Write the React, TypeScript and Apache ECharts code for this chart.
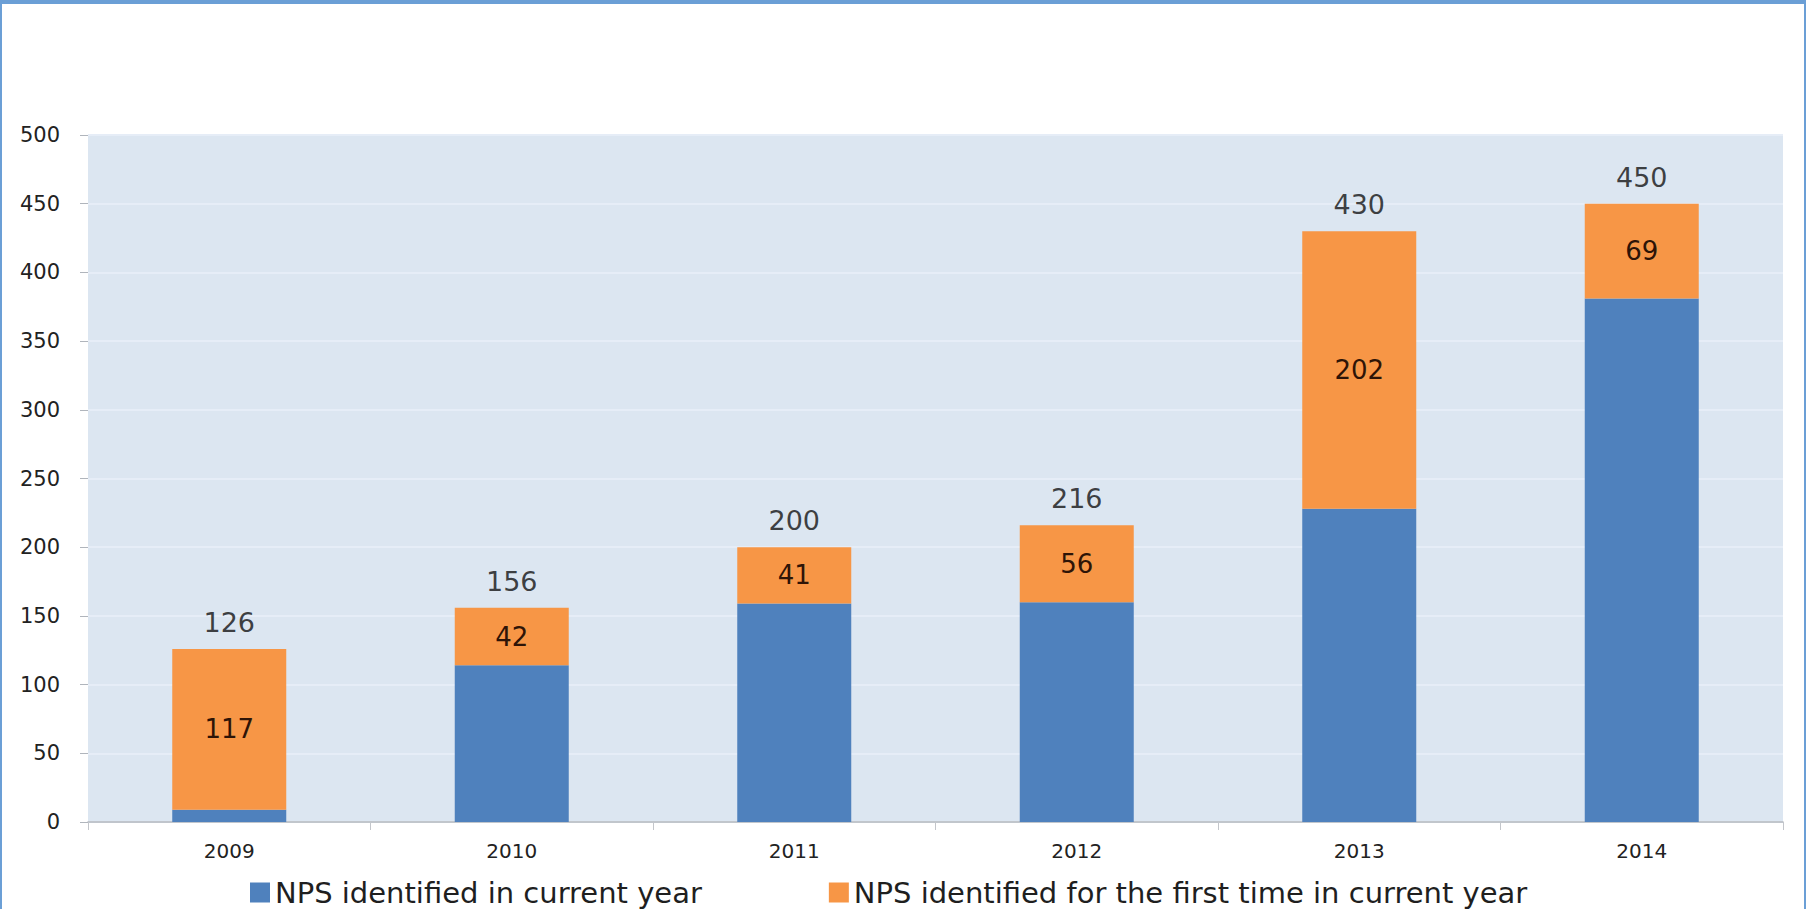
import React, { useEffect, useRef } from "react";
import * as echarts from "echarts";

const years = ["2009", "2010", "2011", "2012", "2013", "2014"];
const identifiedCurrent = [9, 114, 159, 160, 228, 381];
const identifiedFirstTime = [117, 42, 41, 56, 202, 69];
const yTicks = { min: 0, max: 500, interval: 50 };
const legendNames = [
  "NPS identified in current year",
  "NPS identified for the first time in current year",
];

const FONT = "DejaVu Sans";

export default function App() {
  const ref = useRef<HTMLDivElement>(null);
  useEffect(() => {
    if (!ref.current) return;
    const chart = echarts.init(ref.current, undefined, { renderer: "svg" });
    const totals = years.map((_, i) => identifiedCurrent[i] + identifiedFirstTime[i]);
    chart.setOption({
      animation: false,
      backgroundColor: "#ffffff",
      textStyle: { fontFamily: FONT },
      grid: {
        left: 88,
        right: 23,
        top: 135,
        bottom: 87,
        show: true,
        backgroundColor: "#dce6f1",
        borderWidth: 0,
      },
      legend: {
        data: legendNames,
        left: 245,
        top: 873,
        itemWidth: 20,
        itemHeight: 20,
        itemGap: 127,
        icon: "rect",
        textStyle: { fontFamily: FONT, fontSize: 29, color: "#1f1f1f" },
      },
      xAxis: {
        type: "category",
        data: years,
        axisLine: { show: true, lineStyle: { color: "#b4b8be", width: 1.5 } },
        axisTick: { show: true, length: 8, lineStyle: { color: "#c3c6cb" } },
        axisLabel: {
          fontFamily: FONT,
          fontSize: 20,
          color: "#222222",
          margin: 19,
        },
      },
      yAxis: {
        type: "value",
        min: yTicks.min,
        max: yTicks.max,
        interval: yTicks.interval,
        axisLine: { show: false },
        axisTick: { show: true, length: 8, lineStyle: { color: "#b0b5bc" } },
        axisLabel: {
          fontFamily: FONT,
          fontSize: 21,
          color: "#222222",
          margin: 28,
        },
        splitLine: { show: true, lineStyle: { color: "#e6edf7", width: 2 } },
      },
      series: [
        {
          name: legendNames[0],
          type: "bar",
          stack: "nps",
          data: identifiedCurrent,
          barWidth: 114,
          itemStyle: { color: "#4f81bd" },
        },
        {
          name: legendNames[1],
          type: "bar",
          stack: "nps",
          data: identifiedFirstTime,
          barWidth: 114,
          itemStyle: { color: "#f79646" },
          label: {
            show: true,
            position: "inside",
            fontFamily: FONT,
            fontSize: 26,
            color: "#2e1407",
          },
        },
        {
          name: "total",
          type: "scatter",
          data: totals,
          symbolSize: 0,
          silent: true,
          label: {
            show: true,
            position: "top",
            distance: 13,
            fontFamily: FONT,
            fontSize: 27,
            color: "#111111",
          },
        },
      ],
      graphic: [
        { type: "rect", left: 0, top: 0, shape: { width: 1806, height: 4 }, style: { fill: "#6b9fd6" }, z: 100 },
        { type: "rect", left: 0, top: 0, shape: { width: 2, height: 909 }, style: { fill: "#6b9fd6" }, z: 100 },
        { type: "rect", left: 1804, top: 0, shape: { width: 2, height: 909 }, style: { fill: "#6b9fd6" }, z: 100 },
      ],
    });
    return () => chart.dispose();
  }, []);
  return (
    <div
      ref={ref}
      style={{ position: "absolute", left: 0, top: 0, width: 1806, height: 909 }}
    />
  );
}
